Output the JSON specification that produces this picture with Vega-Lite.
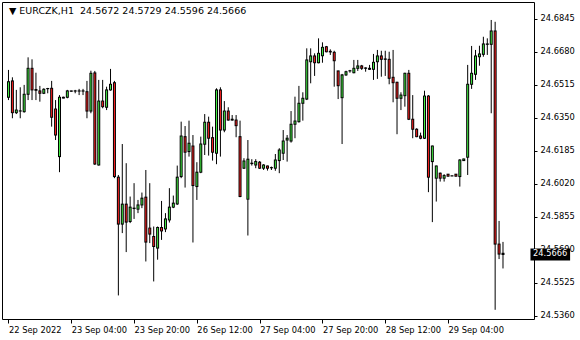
{
"$schema": "https://vega.github.io/schema/vega-lite/v6.json",
"autosize": {"type": "none"},
"padding": {"left": 2, "top": 2, "right": 46, "bottom": 21},
"width": 532,
"height": 317,
"background": "white",
"config": {
  "view": {"stroke": null},
  "font": "DejaVu Sans",
  "axis": {"labelOverlap": false, "labelFlush": false, "labelBound": false, "grid": false, "domain": true, "domainColor": "black", "domainWidth": 1, "title": null, "labelColor": "black", "tickColor": "black", "labelFont": "DejaVu Sans", "labelFontSize": 8.3},
  "axisX": {"labelAlign": "left", "labelOffset": 0, "labelPadding": 2, "tickSize": 4},
  "axisY": {"tickSize": 3, "labelPadding": 3}
},
"resolve": {"axis": {"x": "independent", "y": "independent"}},
"title": {"text": "▼ EURCZK,H1\u00a0\u00a024.5672 24.5729 24.5596 24.5666", "anchor": "start", "frame": "group", "offset": -13, "dx": 7, "fontSize": 9.5, "font": "DejaVu Sans", "fontWeight": "normal", "color": "black"},
"data": {"values": [
{"i":0,"o":24.6453,"h":24.6590,"l":24.6439,"c":24.6531},
{"i":1,"o":24.6535,"h":24.6553,"l":24.6348,"c":24.6376},
{"i":2,"o":24.6376,"h":24.6490,"l":24.6369,"c":24.6389},
{"i":3,"o":24.6384,"h":24.6503,"l":24.6348,"c":24.6385},
{"i":4,"o":24.6381,"h":24.6515,"l":24.6376,"c":24.6468},
{"i":5,"o":24.6468,"h":24.6653,"l":24.6439,"c":24.6598},
{"i":6,"o":24.6598,"h":24.6643,"l":24.6439,"c":24.6490},
{"i":7,"o":24.6492,"h":24.6576,"l":24.6439,"c":24.6488},
{"i":8,"o":24.6485,"h":24.6510,"l":24.6431,"c":24.6473},
{"i":9,"o":24.6473,"h":24.6498,"l":24.6469,"c":24.6493},
{"i":10,"o":24.6496,"h":24.6500,"l":24.6473,"c":24.6497},
{"i":11,"o":24.6498,"h":24.6535,"l":24.6306,"c":24.6353},
{"i":12,"o":24.6394,"h":24.6439,"l":24.6239,"c":24.6264},
{"i":13,"o":24.6156,"h":24.6464,"l":24.6078,"c":24.6453},
{"i":14,"o":24.6453,"h":24.6456,"l":24.6448,"c":24.6449},
{"i":15,"o":24.6453,"h":24.6490,"l":24.6448,"c":24.6485},
{"i":16,"o":24.6485,"h":24.6486,"l":24.6481,"c":24.6483},
{"i":17,"o":24.6485,"h":24.6490,"l":24.6473,"c":24.6484},
{"i":18,"o":24.6485,"h":24.6495,"l":24.6464,"c":24.6484},
{"i":19,"o":24.6484,"h":24.6495,"l":24.6464,"c":24.6485},
{"i":20,"o":24.6481,"h":24.6535,"l":24.6348,"c":24.6384},
{"i":21,"o":24.6384,"h":24.6586,"l":24.6373,"c":24.6573},
{"i":22,"o":24.6575,"h":24.6585,"l":24.6114,"c":24.6119},
{"i":23,"o":24.6114,"h":24.6540,"l":24.6111,"c":24.6434},
{"i":24,"o":24.6434,"h":24.6540,"l":24.6398,"c":24.6406},
{"i":25,"o":24.6403,"h":24.6506,"l":24.6389,"c":24.6490},
{"i":26,"o":24.6490,"h":24.6595,"l":24.6486,"c":24.6518},
{"i":27,"o":24.6526,"h":24.6535,"l":24.6048,"c":24.6056},
{"i":28,"o":24.6053,"h":24.6064,"l":24.5461,"c":24.5818},
{"i":29,"o":24.5818,"h":24.6219,"l":24.5773,"c":24.5918},
{"i":30,"o":24.5918,"h":24.6123,"l":24.5678,"c":24.5828},
{"i":31,"o":24.5831,"h":24.5956,"l":24.5823,"c":24.5903},
{"i":32,"o":24.5898,"h":24.6023,"l":24.5844,"c":24.5896},
{"i":33,"o":24.5893,"h":24.5939,"l":24.5873,"c":24.5914},
{"i":34,"o":24.5914,"h":24.5976,"l":24.5898,"c":24.5948},
{"i":35,"o":24.5953,"h":24.6089,"l":24.5631,"c":24.5728},
{"i":36,"o":24.5798,"h":24.6023,"l":24.5723,"c":24.5768},
{"i":37,"o":24.5756,"h":24.5806,"l":24.5531,"c":24.5706},
{"i":38,"o":24.5698,"h":24.5806,"l":24.5640,"c":24.5801},
{"i":39,"o":24.5801,"h":24.5934,"l":24.5739,"c":24.5784},
{"i":40,"o":24.5794,"h":24.5873,"l":24.5778,"c":24.5844},
{"i":41,"o":24.5839,"h":24.5998,"l":24.5826,"c":24.5903},
{"i":42,"o":24.5903,"h":24.5961,"l":24.5898,"c":24.5923},
{"i":43,"o":24.5919,"h":24.6111,"l":24.5914,"c":24.6053},
{"i":44,"o":24.6056,"h":24.6331,"l":24.6048,"c":24.6259},
{"i":45,"o":24.6256,"h":24.6309,"l":24.6001,"c":24.6178},
{"i":46,"o":24.6181,"h":24.6336,"l":24.6156,"c":24.6223},
{"i":47,"o":24.6209,"h":24.6264,"l":24.5726,"c":24.6011},
{"i":48,"o":24.6006,"h":24.6128,"l":24.5939,"c":24.6078},
{"i":49,"o":24.6078,"h":24.6256,"l":24.6073,"c":24.6219},
{"i":50,"o":24.6218,"h":24.6369,"l":24.6164,"c":24.6328},
{"i":51,"o":24.6328,"h":24.6356,"l":24.6161,"c":24.6248},
{"i":52,"o":24.6251,"h":24.6306,"l":24.6136,"c":24.6178},
{"i":53,"o":24.6173,"h":24.6498,"l":24.6118,"c":24.6490},
{"i":54,"o":24.6490,"h":24.6503,"l":24.6156,"c":24.6289},
{"i":55,"o":24.6289,"h":24.6434,"l":24.6278,"c":24.6384},
{"i":56,"o":24.6384,"h":24.6403,"l":24.6336,"c":24.6339},
{"i":57,"o":24.6343,"h":24.6364,"l":24.6336,"c":24.6339},
{"i":58,"o":24.6339,"h":24.6364,"l":24.6253,"c":24.6311},
{"i":59,"o":24.6256,"h":24.6336,"l":24.5953,"c":24.5956},
{"i":60,"o":24.6098,"h":24.6148,"l":24.6094,"c":24.6134},
{"i":61,"o":24.5943,"h":24.6239,"l":24.5761,"c":24.6143},
{"i":62,"o":24.6123,"h":24.6143,"l":24.6111,"c":24.6121},
{"i":63,"o":24.6114,"h":24.6143,"l":24.6098,"c":24.6131},
{"i":64,"o":24.6128,"h":24.6134,"l":24.6094,"c":24.6098},
{"i":65,"o":24.6098,"h":24.6118,"l":24.6089,"c":24.6114},
{"i":66,"o":24.6109,"h":24.6111,"l":24.6086,"c":24.6098},
{"i":67,"o":24.6101,"h":24.6106,"l":24.6089,"c":24.6100},
{"i":68,"o":24.6098,"h":24.6169,"l":24.6085,"c":24.6139},
{"i":69,"o":24.6136,"h":24.6198,"l":24.6073,"c":24.6189},
{"i":70,"o":24.6173,"h":24.6289,"l":24.6139,"c":24.6234},
{"i":71,"o":24.6239,"h":24.6264,"l":24.6131,"c":24.6248},
{"i":72,"o":24.6234,"h":24.6384,"l":24.6226,"c":24.6318},
{"i":73,"o":24.6318,"h":24.6456,"l":24.6248,"c":24.6334},
{"i":74,"o":24.6331,"h":24.6510,"l":24.6326,"c":24.6423},
{"i":75,"o":24.6423,"h":24.6478,"l":24.6336,"c":24.6448},
{"i":76,"o":24.6444,"h":24.6698,"l":24.6439,"c":24.6640},
{"i":77,"o":24.6631,"h":24.6698,"l":24.6523,"c":24.6660},
{"i":78,"o":24.6660,"h":24.6673,"l":24.6560,"c":24.6626},
{"i":79,"o":24.6626,"h":24.6748,"l":24.6623,"c":24.6673},
{"i":80,"o":24.6661,"h":24.6728,"l":24.6626,"c":24.6703},
{"i":81,"o":24.6706,"h":24.6710,"l":24.6678,"c":24.6681},
{"i":82,"o":24.6683,"h":24.6693,"l":24.6665,"c":24.6680},
{"i":83,"o":24.6678,"h":24.6686,"l":24.6506,"c":24.6636},
{"i":84,"o":24.6585,"h":24.6586,"l":24.6444,"c":24.6511},
{"i":85,"o":24.6451,"h":24.6570,"l":24.6219,"c":24.6565},
{"i":86,"o":24.6565,"h":24.6586,"l":24.6560,"c":24.6581},
{"i":87,"o":24.6585,"h":24.6590,"l":24.6576,"c":24.6586},
{"i":88,"o":24.6576,"h":24.6640,"l":24.6573,"c":24.6598},
{"i":89,"o":24.6598,"h":24.6640,"l":24.6585,"c":24.6610},
{"i":90,"o":24.6610,"h":24.6615,"l":24.6590,"c":24.6598},
{"i":91,"o":24.6600,"h":24.6603,"l":24.6581,"c":24.6598},
{"i":92,"o":24.6593,"h":24.6615,"l":24.6590,"c":24.6598},
{"i":93,"o":24.6593,"h":24.6670,"l":24.6540,"c":24.6628},
{"i":94,"o":24.6631,"h":24.6690,"l":24.6545,"c":24.6660},
{"i":95,"o":24.6660,"h":24.6686,"l":24.6556,"c":24.6643},
{"i":96,"o":24.6645,"h":24.6686,"l":24.6560,"c":24.6643},
{"i":97,"o":24.6643,"h":24.6681,"l":24.6518,"c":24.6548},
{"i":98,"o":24.6553,"h":24.6690,"l":24.6428,"c":24.6526},
{"i":99,"o":24.6528,"h":24.6531,"l":24.6268,"c":24.6448},
{"i":100,"o":24.6448,"h":24.6478,"l":24.6389,"c":24.6464},
{"i":101,"o":24.6461,"h":24.6576,"l":24.6406,"c":24.6573},
{"i":102,"o":24.6573,"h":24.6590,"l":24.6339,"c":24.6343},
{"i":103,"o":24.6343,"h":24.6464,"l":24.6248,"c":24.6293},
{"i":104,"o":24.6293,"h":24.6298,"l":24.6253,"c":24.6256},
{"i":105,"o":24.6259,"h":24.6276,"l":24.6243,"c":24.6248},
{"i":106,"o":24.6248,"h":24.6486,"l":24.6244,"c":24.6459},
{"i":107,"o":24.6459,"h":24.6464,"l":24.5978,"c":24.6053},
{"i":108,"o":24.6131,"h":24.6211,"l":24.5828,"c":24.6209},
{"i":109,"o":24.6048,"h":24.6111,"l":24.5931,"c":24.6109},
{"i":110,"o":24.6073,"h":24.6076,"l":24.6031,"c":24.6048},
{"i":111,"o":24.6048,"h":24.6068,"l":24.6031,"c":24.6061},
{"i":112,"o":24.6068,"h":24.6069,"l":24.6056,"c":24.6058},
{"i":113,"o":24.6059,"h":24.6061,"l":24.6058,"c":24.6060},
{"i":114,"o":24.6068,"h":24.6069,"l":24.6056,"c":24.6058},
{"i":115,"o":24.6056,"h":24.6143,"l":24.6006,"c":24.6139},
{"i":116,"o":24.6136,"h":24.6146,"l":24.6134,"c":24.6144},
{"i":117,"o":24.6153,"h":24.6615,"l":24.6064,"c":24.6518},
{"i":118,"o":24.6518,"h":24.6710,"l":24.6495,"c":24.6573},
{"i":119,"o":24.6568,"h":24.6690,"l":24.6540,"c":24.6660},
{"i":120,"o":24.6656,"h":24.6711,"l":24.6611,"c":24.6670},
{"i":121,"o":24.6668,"h":24.6756,"l":24.6656,"c":24.6720},
{"i":122,"o":24.6718,"h":24.6748,"l":24.6665,"c":24.6720},
{"i":123,"o":24.6718,"h":24.6840,"l":24.6373,"c":24.6785},
{"i":124,"o":24.6785,"h":24.6831,"l":24.5389,"c":24.5718},
{"i":125,"o":24.5718,"h":24.5834,"l":24.5643,"c":24.5668},
{"i":126,"o":24.5672,"h":24.5729,"l":24.5596,"c":24.5666}
]},
"layer": [
{"mark": {"type": "rule", "color": "black", "strokeWidth": 1},
 "encoding": {
  "x": {"field": "i", "type": "quantitative",
        "scale": {"domain": [-0.375, 132.625], "nice": false, "zero": false},
        "axis": {"orient": "bottom", "values": [0,16,32,48,64,80,96,112],
                 "labelExpr": "['22 Sep 2022','23 Sep 04:00','23 Sep 20:00','26 Sep 12:00','27 Sep 04:00','27 Sep 20:00','28 Sep 12:00','29 Sep 04:00'][round(datum.value/16)]"}},
  "y": {"field": "l", "type": "quantitative",
        "scale": {"domain": [24.5343, 24.6930], "nice": false, "zero": false},
        "axis": {"orient": "right", "values": [24.536,24.5525,24.569,24.5855,24.602,24.6185,24.635,24.6515,24.668,24.6845], "format": ".4f"}},
  "y2": {"field": "h"}
 }},
{"transform": [{"filter": "datum.c >= datum.o"}],
 "mark": {"type": "bar", "orient": "vertical", "width": 3, "color": "black", "yOffset": 0.5, "y2Offset": -0.5},
 "encoding": {
  "x": {"field": "i", "type": "quantitative",
        "axis": {"orient": "top", "values": [], "labels": false, "ticks": false, "domain": true}},
  "y": {"field": "o", "type": "quantitative",
        "axis": {"orient": "left", "values": [], "labels": false, "ticks": false, "domain": true}},
  "y2": {"field": "c"}
 }},
{"transform": [{"filter": "datum.c < datum.o"}],
 "mark": {"type": "bar", "orient": "vertical", "width": 3, "color": "black", "yOffset": -0.5, "y2Offset": 0.5},
 "encoding": {
  "x": {"field": "i", "type": "quantitative", "axis": null},
  "y": {"field": "o", "type": "quantitative", "axis": null},
  "y2": {"field": "c"}
 }},
{"transform": [{"filter": "datum.c - datum.o > 0.0006"}],
 "mark": {"type": "bar", "orient": "vertical", "width": 1, "color": "#44EE44", "yOffset": -0.5, "y2Offset": 0.5},
 "encoding": {
  "x": {"field": "i", "type": "quantitative", "axis": null},
  "y": {"field": "o", "type": "quantitative", "axis": null},
  "y2": {"field": "c"}
 }},
{"transform": [{"filter": "datum.o - datum.c > 0.0006"}],
 "mark": {"type": "bar", "orient": "vertical", "width": 1, "color": "#FF2222", "yOffset": 0.5, "y2Offset": -0.5},
 "encoding": {
  "x": {"field": "i", "type": "quantitative", "axis": null},
  "y": {"field": "o", "type": "quantitative", "axis": null},
  "y2": {"field": "c"}
 }},
{"transform": [{"filter": "datum.i == 126"}],
 "mark": {"type": "rect", "color": "black", "yOffset": -6, "y2Offset": 6, "clip": false},
 "encoding": {
  "x": {"datum": 133.0, "type": "quantitative", "axis": null},
  "x2": {"datum": 143.1},
  "y": {"field": "c", "type": "quantitative", "axis": null},
  "y2": {"field": "c"}
 }},
{"transform": [{"filter": "datum.i == 126"}],
 "mark": {"type": "text", "color": "white", "align": "left", "baseline": "middle", "fontSize": 8.3, "font": "DejaVu Sans", "clip": false},
 "encoding": {
  "x": {"datum": 133.65, "type": "quantitative", "axis": null},
  "y": {"field": "c", "type": "quantitative", "axis": null},
  "text": {"field": "c", "type": "quantitative", "format": ".4f"}
 }}
]
}
